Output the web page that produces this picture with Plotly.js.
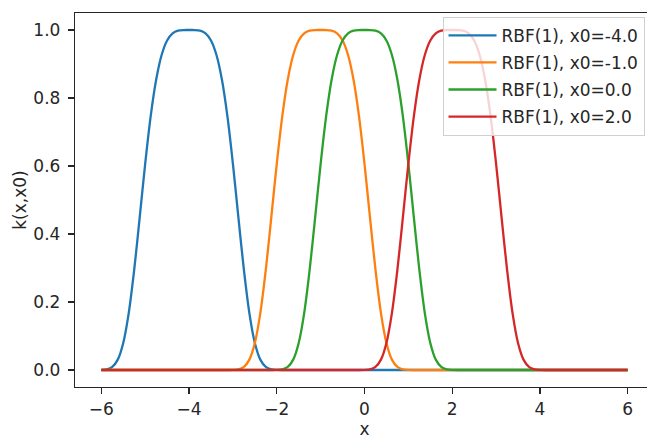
<!DOCTYPE html>
<html>
<head>
<meta charset="utf-8">
<script src="https://cdn.plot.ly/plotly-3.0.1.min.js"></script>
<style>
  html, body { margin: 0; padding: 0; overflow: hidden; background: #fff; }
</style>
</head>
<body>
<div id="chart"></div>
<script>
// Sample positions along x (step 0.125 from -6 to 6)
const xs = [
  -6, -5.875, -5.75, -5.625, -5.5, -5.375, -5.25, -5.125,
  -5, -4.875, -4.75, -4.625, -4.5, -4.375, -4.25, -4.125,
  -4, -3.875, -3.75, -3.625, -3.5, -3.375, -3.25, -3.125,
  -3, -2.875, -2.75, -2.625, -2.5, -2.375, -2.25, -2.125,
  -2, -1.875, -1.75, -1.625, -1.5, -1.375, -1.25, -1.125,
  -1, -0.875, -0.75, -0.625, -0.5, -0.375, -0.25, -0.125,
  0, 0.125, 0.25, 0.375, 0.5, 0.625, 0.75, 0.875,
  1, 1.125, 1.25, 1.375, 1.5, 1.625, 1.75, 1.875,
  2, 2.125, 2.25, 2.375, 2.5, 2.625, 2.75, 2.875,
  3, 3.125, 3.25, 3.375, 3.5, 3.625, 3.75, 3.875,
  4, 4.125, 4.25, 4.375, 4.5, 4.625, 4.75, 4.875,
  5, 5.125, 5.25, 5.375, 5.5, 5.625, 5.75, 5.875,
  6
];

// k(x, x0) for x0 = -4
const kCenterM4 = [
  0.0003, 0.0021, 0.0092, 0.0306, 0.0796, 0.1674, 0.2950, 0.4489,
  0.6065, 0.7460, 0.8537, 0.9265, 0.9692, 0.9902, 0.9980, 0.9999,
  1.0000, 0.9999, 0.9980, 0.9902, 0.9692, 0.9265, 0.8537, 0.7460,
  0.6065, 0.4489, 0.2950, 0.1674, 0.0796, 0.0306, 0.0092, 0.0021,
  0.0003, 0, 0, 0, 0, 0, 0, 0,
  0, 0, 0, 0, 0, 0, 0, 0,
  0, 0, 0, 0, 0, 0, 0, 0,
  0, 0, 0, 0, 0, 0, 0, 0,
  0, 0, 0, 0, 0, 0, 0, 0,
  0, 0, 0, 0, 0, 0, 0, 0,
  0, 0, 0, 0, 0, 0, 0, 0,
  0, 0, 0, 0, 0, 0, 0, 0,
  0
];

// k(x, x0) for x0 = -1
const kCenterM1 = [
  0, 0, 0, 0, 0, 0, 0, 0,
  0, 0, 0, 0, 0, 0, 0, 0,
  0, 0, 0, 0, 0, 0, 0, 0,
  0.0003, 0.0021, 0.0092, 0.0306, 0.0796, 0.1674, 0.2950, 0.4489,
  0.6065, 0.7460, 0.8537, 0.9265, 0.9692, 0.9902, 0.9980, 0.9999,
  1.0000, 0.9999, 0.9980, 0.9902, 0.9692, 0.9265, 0.8537, 0.7460,
  0.6065, 0.4489, 0.2950, 0.1674, 0.0796, 0.0306, 0.0092, 0.0021,
  0.0003, 0, 0, 0, 0, 0, 0, 0,
  0, 0, 0, 0, 0, 0, 0, 0,
  0, 0, 0, 0, 0, 0, 0, 0,
  0, 0, 0, 0, 0, 0, 0, 0,
  0, 0, 0, 0, 0, 0, 0, 0,
  0
];

// k(x, x0) for x0 = 0
const kCenter0 = [
  0, 0, 0, 0, 0, 0, 0, 0,
  0, 0, 0, 0, 0, 0, 0, 0,
  0, 0, 0, 0, 0, 0, 0, 0,
  0, 0, 0, 0, 0, 0, 0, 0,
  0.0003, 0.0021, 0.0092, 0.0306, 0.0796, 0.1674, 0.2950, 0.4489,
  0.6065, 0.7460, 0.8537, 0.9265, 0.9692, 0.9902, 0.9980, 0.9999,
  1.0000, 0.9999, 0.9980, 0.9902, 0.9692, 0.9265, 0.8537, 0.7460,
  0.6065, 0.4489, 0.2950, 0.1674, 0.0796, 0.0306, 0.0092, 0.0021,
  0.0003, 0, 0, 0, 0, 0, 0, 0,
  0, 0, 0, 0, 0, 0, 0, 0,
  0, 0, 0, 0, 0, 0, 0, 0,
  0, 0, 0, 0, 0, 0, 0, 0,
  0
];

// k(x, x0) for x0 = 2
const kCenter2 = [
  0, 0, 0, 0, 0, 0, 0, 0,
  0, 0, 0, 0, 0, 0, 0, 0,
  0, 0, 0, 0, 0, 0, 0, 0,
  0, 0, 0, 0, 0, 0, 0, 0,
  0, 0, 0, 0, 0, 0, 0, 0,
  0, 0, 0, 0, 0, 0, 0, 0,
  0.0003, 0.0021, 0.0092, 0.0306, 0.0796, 0.1674, 0.2950, 0.4489,
  0.6065, 0.7460, 0.8537, 0.9265, 0.9692, 0.9902, 0.9980, 0.9999,
  1.0000, 0.9999, 0.9980, 0.9902, 0.9692, 0.9265, 0.8537, 0.7460,
  0.6065, 0.4489, 0.2950, 0.1674, 0.0796, 0.0306, 0.0092, 0.0021,
  0.0003, 0, 0, 0, 0, 0, 0, 0,
  0, 0, 0, 0, 0, 0, 0, 0,
  0
];

const seriesNames = ['RBF(1), x0=-4.0', 'RBF(1), x0=-1.0', 'RBF(1), x0=0.0', 'RBF(1), x0=2.0'];
const seriesColors = ['#1f77b4', '#ff7f0e', '#2ca02c', '#d62728'];
const seriesValues = [kCenterM4, kCenterM1, kCenter0, kCenter2];

const xTickVals = [-6, -4, -2, 0, 2, 4, 6];
const xTickText = ['\u22126', '\u22124', '\u22122', '0', '2', '4', '6'];
const yTickVals = [0, 0.2, 0.4, 0.6, 0.8, 1.0];
const yTickText = ['0.0', '0.2', '0.4', '0.6', '0.8', '1.0'];

const FONT = '"DejaVu Sans", sans-serif';
const INK = '#262626';

const traces = seriesValues.map((ys, i) => ({
  type: 'scatter',
  mode: 'lines',
  x: xs,
  y: ys,
  name: seriesNames[i],
  legendgroup: 'k' + i,
  line: { color: seriesColors[i], width: 2.3, shape: 'spline', smoothing: 0.8 },
  hoverinfo: 'skip'
}));

const axisCommon = {
  ticks: 'outside',
  ticklen: 6,
  tickwidth: 1.2,
  tickcolor: INK,
  showline: true,
  linecolor: INK,
  linewidth: 1.2,
  mirror: true,
  showgrid: false,
  zeroline: false,
  tickfont: { family: FONT, size: 17, color: INK }
};

const layout = {
  width: 670,
  height: 439,
  margin: { l: 75, r: 16, t: 12.5, b: 52, pad: 0 },
  paper_bgcolor: '#fff',
  plot_bgcolor: '#fff',
  font: { family: FONT, size: 17, color: INK },
  showlegend: true,
  legend: {
    x: 0.9836, y: 0.99, xanchor: 'right', yanchor: 'top',
    bgcolor: 'rgba(255,255,255,0.8)',
    bordercolor: '#d0d0d0', borderwidth: 1,
    font: { family: FONT, size: 17, color: INK },
    itemwidth: 48,
    traceorder: 'grouped',
    tracegroupgap: 2
  },
  xaxis: Object.assign({}, axisCommon, {
    range: [-6.6, 6.6],
    tickmode: 'array', tickvals: xTickVals, ticktext: xTickText,
    title: { text: 'x', standoff: 9, font: { family: FONT, size: 17, color: INK } }
  }),
  yaxis: Object.assign({}, axisCommon, {
    range: [-0.05, 1.05],
    tickmode: 'array', tickvals: yTickVals, ticktext: yTickText,
    ticklabelstandoff: 4,
    title: { text: 'k(x,x0)', standoff: 2, font: { family: FONT, size: 17, color: INK } }
  })
};

Plotly.newPlot('chart', traces, layout, { displayModeBar: false, staticPlot: true });
</script>
</body>
</html>
